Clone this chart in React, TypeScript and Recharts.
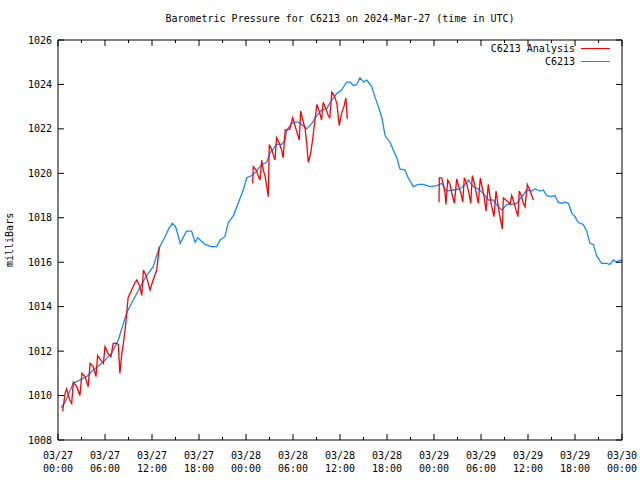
import React from "react";
import { LineChart, Line, XAxis, YAxis } from "recharts";

const FONT = '"DejaVu Sans Mono", monospace';
const RED = "#ff0000";
const BLUE = "#1488ff";

// hours since 03/27 00:00 UTC
const hourTicks = [0, 3, 6, 9, 12, 15, 18, 21, 24, 27, 30, 33, 36, 39, 42, 45, 48, 51, 54, 57, 60, 63, 66, 69, 72];
const pressureTicks = [1008, 1010, 1012, 1014, 1016, 1018, 1020, 1022, 1024, 1026];
const dayLabels = ["03/27", "03/28", "03/29", "03/30"];
const timeLabels = ["00:00", "06:00", "12:00", "18:00"];

// C6213 observations
const obsHours = [
  0.4, 0.9, 1.95, 2.8, 3.65, 4.5, 5.6, 6.85, 7.7, 8.75,
  9.6, 10.45, 11.3, 12.15, 12.6, 13.0, 13.6, 14.2, 14.6, 15.0,
  15.3, 15.6, 16.4, 17.05, 17.5, 17.85, 18.75, 19.6, 20.25, 20.7,
  21.3, 21.75, 22.4, 23.0, 23.65, 24.1, 24.75, 25.35, 26.0, 26.65,
  27.05, 27.9, 28.55, 29.0, 29.2, 29.85, 30.25, 30.7, 31.3, 31.75,
  32.4, 33.05, 33.65, 34.3, 34.95, 35.6, 36.2, 36.85, 37.3, 37.7,
  38.15, 38.55, 39.0, 39.4, 40.05, 40.45, 40.9, 41.35, 41.75, 42.4,
  42.8, 43.25, 43.65, 44.3, 44.7, 45.35, 46.0, 46.65, 47.5, 48.35,
  49.0, 49.6, 50.45, 51.3, 51.95, 52.4, 53.0, 53.65, 54.3, 54.95,
  55.55, 56.2, 56.65, 57.3, 57.9, 58.55, 59.2, 59.85, 60.45, 60.9,
  61.55, 61.95, 62.4, 63.05, 63.45, 63.85, 64.3, 64.7, 65.15, 65.6,
  66.0, 66.4, 67.05, 67.5, 67.9, 68.35, 68.75, 69.4, 70.05, 70.45,
  70.9, 71.3, 71.75, 72.0,
];
const obsPressure = [
  1009.45, 1009.7, 1010.55, 1010.7, 1010.85, 1011.15, 1011.45, 1011.9, 1012.5, 1013.7,
  1014.3, 1014.85, 1015.4, 1015.8, 1016.3, 1016.7, 1017.1, 1017.55, 1017.75, 1017.6,
  1017.25, 1016.85, 1017.4, 1017.4, 1016.9, 1017.1, 1016.8, 1016.7, 1016.7, 1017.0,
  1017.15, 1017.8, 1018.1, 1018.65, 1019.25, 1019.8, 1019.9, 1020.1, 1020.4, 1020.5,
  1020.9, 1021.3, 1021.3, 1021.5, 1021.95, 1022.25, 1022.3, 1022.3, 1022.15, 1022.0,
  1022.25, 1022.6, 1022.85, 1022.9, 1023.3, 1023.6, 1023.75, 1024.1, 1024.1, 1023.95,
  1024.0, 1024.3, 1024.1, 1024.2, 1023.9, 1023.45, 1023.0, 1022.5, 1021.7, 1021.4,
  1021.05, 1020.7, 1020.2, 1020.15, 1019.8, 1019.4, 1019.5, 1019.5, 1019.4, 1019.45,
  1019.55, 1019.2, 1019.25, 1019.3, 1019.5, 1019.7, 1019.4, 1019.3, 1019.1, 1018.8,
  1018.8, 1018.5, 1018.35, 1018.6, 1018.6, 1018.65, 1018.95, 1019.25, 1019.2, 1019.3,
  1019.2, 1019.25, 1019.0, 1018.95, 1019.0, 1018.7, 1018.65, 1018.7, 1018.65, 1018.2,
  1018.05, 1017.8, 1017.7, 1017.4, 1016.85, 1016.8, 1016.3, 1015.95, 1015.95, 1015.9,
  1016.1, 1016.0, 1016.1, 1016.05,
];

// C6213 Analysis (null = gap between analysis runs)
const anaHours = [
  0.6, 0.9, 1.1, 1.5, 1.75, 1.95, 2.4, 2.8, 3.05, 3.45,
  3.85, 4.1, 4.5, 4.85, 5.05, 5.35, 5.8, 6.0, 6.4, 6.75,
  7.05, 7.5, 7.7, 7.9, 8.15, 8.35, 8.7, 8.95, 9.4, 9.85,
  10.05, 10.4, 10.7, 10.9, 11.3, 11.75, 12.15, 12.6, 12.95,
  18,
  24.85, 24.93, 25.3, 25.55, 25.8, 26.0, 26.2, 26.45, 26.65, 26.85,
  26.97, 27.3, 27.55, 27.7, 27.9, 28.25, 28.55, 28.75, 29.0, 29.2,
  29.6, 29.95, 30.25, 30.55, 30.8, 30.98, 31.25, 31.55, 31.75, 31.95,
  32.25, 32.5, 32.7, 33.05, 33.35, 33.65, 33.85, 34.2, 34.5, 34.7,
  34.95, 35.25, 35.6, 35.9, 36.2, 36.5, 36.75, 36.93,
  42,
  48.64, 48.68, 48.98, 49.19, 49.41, 49.53, 49.75, 50.04, 50.34, 50.6,
  50.9, 51.23, 51.45, 51.67, 51.87, 52.17, 52.47, 52.69, 52.89, 53.15,
  53.45, 53.66, 53.91, 54.22, 54.42, 54.64, 54.93, 55.15, 55.37, 55.66,
  55.92, 56.13, 56.34, 56.55, 56.72, 56.85, 57.19, 57.49, 57.7, 57.92,
  58.12, 58.43, 58.72, 58.89, 59.19, 59.4, 59.62, 59.92, 60.17, 60.48,
  60.68,
];
const anaPressure = [
  1009.3, 1010.1, 1010.3, 1009.8, 1009.65, 1010.6, 1010.4, 1010.0, 1011.0, 1010.85,
  1010.4, 1011.45, 1011.3, 1010.85, 1011.8, 1011.65, 1011.45, 1012.2, 1011.9, 1011.75,
  1012.35, 1012.35, 1012.3, 1011.0, 1011.9, 1012.35, 1013.4, 1014.4, 1014.75, 1015.1,
  1015.2, 1014.95, 1014.5, 1015.65, 1015.35, 1014.75, 1015.2, 1015.65, 1016.7,
  null,
  1019.55, 1020.3, 1020.15, 1019.9, 1019.7, 1020.6, 1020.15, 1019.85, 1019.4, 1018.95,
  1021.3, 1021.05, 1020.75, 1020.6, 1021.6, 1021.35, 1021.05, 1020.7, 1021.95, 1021.95,
  1022.0, 1022.5, 1022.15, 1021.8, 1021.5, 1022.8, 1022.4, 1022.0, 1021.35, 1020.5,
  1020.9, 1021.5, 1022.1, 1023.1, 1022.8, 1022.4, 1023.2, 1022.9, 1022.6, 1022.5,
  1023.65, 1023.5, 1023.15, 1022.15, 1022.7, 1023.0, 1023.4, 1022.45,
  null,
  1018.7, 1019.8, 1019.8, 1019.5, 1019.1, 1018.6, 1019.7, 1019.5, 1019.0, 1018.65,
  1019.75, 1019.3, 1019.1, 1018.7, 1019.8, 1019.55, 1019.1, 1018.65, 1019.9, 1019.55,
  1019.0, 1018.65, 1019.8, 1019.25, 1018.9, 1018.3, 1019.5, 1018.95, 1018.5, 1018.05,
  1019.2, 1018.7, 1018.2, 1017.8, 1017.5, 1018.9, 1018.8, 1018.7, 1018.6, 1019.0,
  1018.8, 1018.4, 1018.05, 1019.2, 1018.95, 1018.65, 1018.5, 1019.5, 1019.3, 1019.0,
  1018.8,
];

const obsData = obsHours.map((t, i) => ({ t, p: obsPressure[i] }));
const anaData = anaHours.map((t, i) => ({ t, p: anaPressure[i] }));

const textProps = { fontFamily: FONT, fontSize: 10, fill: "#000" };
// tiny non-zero size so recharts keeps the tick anchor on the border
const TS = 0.01;

function BottomTick({ x, y, payload }: any) {
  const h = payload.value;
  const major = h % 6 === 0;
  return (
    <g>
      <line x1={x} x2={x} y1={y} y2={y - (major ? 6 : 3)} stroke="#000" />
      {major && (
        <text textAnchor="middle" {...textProps}>
          <tspan x={x} y={y + 19}>{dayLabels[Math.floor(h / 24)]}</tspan>
          <tspan x={x} y={y + 32}>{timeLabels[(h % 24) / 6]}</tspan>
        </text>
      )}
    </g>
  );
}

function TopTick({ x, y, payload }: any) {
  const major = payload.value % 6 === 0;
  return <line x1={x} x2={x} y1={y} y2={y + (major ? 6 : 3)} stroke="#000" />;
}

function LeftTick({ x, y, payload }: any) {
  return (
    <g>
      <line x1={x} x2={x + 6} y1={y} y2={y} stroke="#000" />
      <text x={x - 6} y={y} dy="0.35em" textAnchor="end" {...textProps}>
        {payload.value}
      </text>
    </g>
  );
}

function RightTick({ x, y }: any) {
  return <line x1={x} x2={x - 6} y1={y} y2={y} stroke="#000" />;
}

export default function App() {
  return (
    <div style={{ position: "absolute", left: 0, top: 0, width: 640, height: 480, background: "#fff", fontFamily: FONT, fontSize: 10 }}>
      <div style={{ position: "absolute", left: 0, top: 12, width: 680, textAlign: "center", lineHeight: "14px" }}>
        Barometric Pressure for C6213 on 2024-Mar-27 (time in UTC)
      </div>
      <div
        style={{
          position: "absolute",
          left: -17,
          top: 233,
          width: 54,
          height: 14,
          lineHeight: "14px",
          textAlign: "center",
          transform: "rotate(-90deg)",
        }}
      >
        milliBars
      </div>

      <LineChart width={640} height={480} margin={{ top: 39, right: 17, bottom: 0, left: 0 }}>
        <XAxis
          xAxisId="b"
          dataKey="t"
          type="number"
          domain={[0, 72]}
          ticks={hourTicks}
          interval={0}
          orientation="bottom"
          height={40}
          tickSize={TS}
          tickMargin={0}
          tickLine={false}
          axisLine={{ stroke: "#000" }}
          tick={<BottomTick />}
          allowDataOverflow
        />
        <XAxis
          xAxisId="t"
          dataKey="t"
          type="number"
          domain={[0, 72]}
          ticks={hourTicks}
          interval={0}
          orientation="top"
          height={1}
          tickSize={TS}
          tickMargin={0}
          tickLine={false}
          axisLine={{ stroke: "#000" }}
          tick={<TopTick />}
          allowDataOverflow
        />
        <YAxis
          yAxisId="l"
          type="number"
          domain={[1008, 1026]}
          ticks={pressureTicks}
          interval={0}
          width={58}
          tickSize={TS}
          tickMargin={0}
          tickLine={false}
          axisLine={{ stroke: "#000" }}
          tick={<LeftTick />}
          allowDataOverflow
        />
        <YAxis
          yAxisId="r"
          orientation="right"
          type="number"
          domain={[1008, 1026]}
          ticks={pressureTicks}
          interval={0}
          width={1}
          tickSize={TS}
          tickMargin={0}
          tickLine={false}
          axisLine={{ stroke: "#000" }}
          tick={<RightTick />}
          allowDataOverflow
        />
        <Line
          data={obsData}
          xAxisId="b"
          yAxisId="l"
          dataKey="p"
          type="linear"
          stroke={BLUE}
          strokeWidth={1.3}
          dot={false}
          isAnimationActive={false}
        />
        <Line
          data={anaData}
          xAxisId="b"
          yAxisId="l"
          dataKey="p"
          type="linear"
          stroke={RED}
          strokeWidth={1.3}
          dot={false}
          isAnimationActive={false}
        />
      </LineChart>

      <div style={{ position: "absolute", right: 65, top: 42, textAlign: "right", lineHeight: "13px" }}>
        <div>C6213 Analysis</div>
        <div>C6213</div>
      </div>
      <div style={{ position: "absolute", left: 581, top: 48, width: 29, borderTop: `1px solid ${RED}` }} />
      <div style={{ position: "absolute", left: 581, top: 61, width: 29, borderTop: `1px solid ${BLUE}` }} />
    </div>
  );
}
